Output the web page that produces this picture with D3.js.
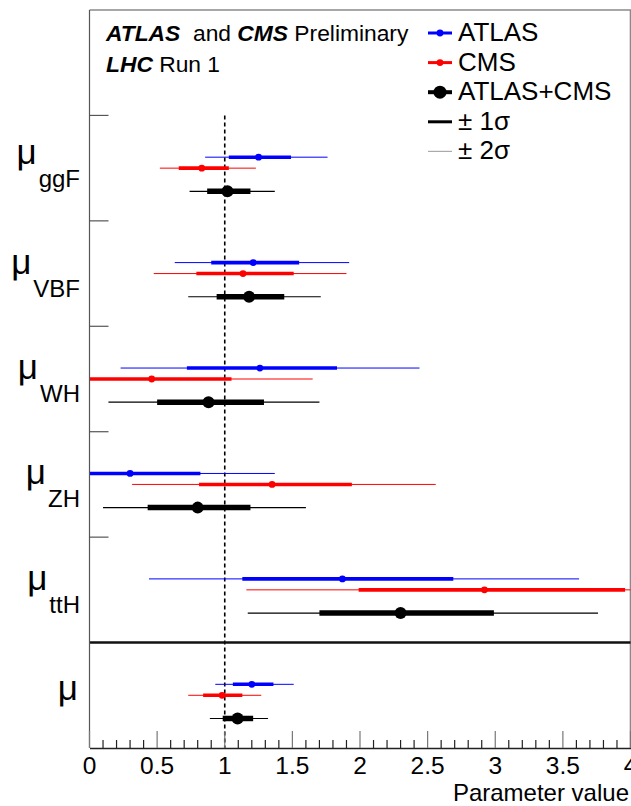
<!DOCTYPE html>
<html>
<head>
<meta charset="utf-8">
<script src="https://cdn.jsdelivr.net/npm/d3@7"></script>
<style>
  html, body { margin: 0; padding: 0; background: #fff; }
  svg { display: block; font-family: "Liberation Sans", Arial, Helvetica, sans-serif; }
  text { white-space: pre; }
</style>
</head>
<body>
<svg id="chart" width="631" height="806"></svg>
<script>
// ---- data ----
const categories = ["ggF", "VBF", "WH", "ZH", "ttH", ""];  // "" = global μ
const seriesNames = ["ATLAS", "CMS", "ATLAS+CMS"];

const atlasVal  = [1.25, 1.21, 1.26, 0.30, 1.87, 1.20];
const atlasLo1  = [1.03, 0.90, 0.72, 0.00, 1.13, 1.06];
const atlasHi1  = [1.49, 1.55, 1.83, 0.82, 2.69, 1.36];
const atlasLo2  = [0.855, 0.63, 0.23, 0.00, 0.44, 0.93];
const atlasHi2  = [1.76, 1.92, 2.44, 1.37, 3.62, 1.51];

const cmsVal    = [0.83, 1.135, 0.46, 1.35, 2.92, 0.98];
const cmsLo1    = [0.66, 0.79, 0.00, 0.81, 1.99, 0.84];
const cmsHi1    = [1.03, 1.51, 1.05, 1.94, 3.96, 1.13];
const cmsLo2    = [0.52, 0.475, 0.00, 0.315, 1.16, 0.73];
const cmsHi2    = [1.23, 1.90, 1.65, 2.56, 4.00, 1.27];

const combVal   = [1.02, 1.18, 0.88, 0.80, 2.30, 1.095];
const combLo1   = [0.87, 0.94, 0.50, 0.43, 1.70, 0.985];
const combHi1   = [1.19, 1.44, 1.29, 1.19, 2.99, 1.21];
const combLo2   = [0.74, 0.73, 0.14, 0.10, 1.17, 0.89];
const combHi2   = [1.37, 1.71, 1.70, 1.60, 3.76, 1.32];

const xTickLabels = ["0", "0.5", "1", "1.5", "2", "2.5", "3", "3.5", "4"];

// ---- layout ----
const svg = d3.select("#chart");
const pL = 89.5, pR = 630.5, pT = 10, pB = 748;
const x = d3.scaleLinear().domain([0, 4]).range([pL, pR]).clamp(true);
const y = d3.scaleLinear().domain([0, 7]).range([pT, pB]);

const series = [
  { name: "ATLAS", color: "#0000ff", val: atlasVal, lo1: atlasLo1, hi1: atlasHi1, lo2: atlasLo2, hi2: atlasHi2,
    off: 0.396, thick: 3.6, thin: 1, r: 3.4 },
  { name: "CMS", color: "#ff0000", val: cmsVal, lo1: cmsLo1, hi1: cmsHi1, lo2: cmsLo2, hi2: cmsHi2,
    off: 0.50, thick: 3.6, thin: 1, r: 3.4 },
  { name: "ATLAS+CMS", color: "#000000", val: combVal, lo1: combLo1, hi1: combHi1, lo2: combLo2, hi2: combHi2,
    off: 0.72, thick: 5.5, thin: 1.2, r: 6 }
];

// frame (top & right)
svg.append("path")
  .attr("d", `M${pL},${pT}H${pR}V${pB}`)
  .attr("fill", "none").attr("stroke", "#8a8a8a").attr("stroke-width", 1.6);

// dashed line at 1
svg.append("line")
  .attr("x1", x(1)).attr("x2", x(1))
  .attr("y1", y(1)).attr("y2", pB)
  .attr("stroke", "#000").attr("stroke-width", 1.6)
  .attr("stroke-dasharray", "4,3");

// data
categories.forEach((c, i) => {
  const band = i + 1;
  series.forEach(s => {
    const yy = y(band + s.off);
    const g = svg.append("g");
    g.append("line")
      .attr("x1", x(s.lo2[i])).attr("x2", x(s.hi2[i]))
      .attr("y1", yy).attr("y2", yy)
      .attr("stroke", s.color).attr("stroke-width", s.thin);
    g.append("line")
      .attr("x1", x(s.lo1[i])).attr("x2", x(s.hi1[i]))
      .attr("y1", yy).attr("y2", yy)
      .attr("stroke", s.color).attr("stroke-width", s.thick);
    g.append("circle")
      .attr("cx", x(s.val[i])).attr("cy", yy).attr("r", s.r)
      .attr("fill", s.color);
  });
});

// separator line before global μ
svg.append("line")
  .attr("x1", pL).attr("x2", pR)
  .attr("y1", y(6)).attr("y2", y(6))
  .attr("stroke", "#111").attr("stroke-width", 2.6);

// left axis
svg.append("line")
  .attr("x1", pL).attr("x2", pL).attr("y1", pT).attr("y2", pB)
  .attr("stroke", "#555").attr("stroke-width", 1.2);
d3.range(1, 6).forEach(b => {
  svg.append("line")
    .attr("x1", pL).attr("x2", pL + 19)
    .attr("y1", y(b)).attr("y2", y(b))
    .attr("stroke", "#555").attr("stroke-width", 1.2);
});

// bottom axis
const xAxis = d3.axisBottom(x).tickValues(d3.range(0, 4.001, 0.1)).tickSize(0).tickFormat("");
const ax = svg.append("g").attr("transform", `translate(0,${pB})`).call(xAxis);
ax.select(".domain").attr("stroke", "#222").attr("stroke-width", 1.4);
ax.selectAll(".tick line").remove();
d3.range(0, 41).forEach(k => {
  const major = k % 5 === 0;
  svg.append("line")
    .attr("x1", x(k / 10)).attr("x2", x(k / 10))
    .attr("y1", pB).attr("y2", pB - (major ? 17 : 8))
    .attr("stroke", major ? "#777" : "#222").attr("stroke-width", 1.2);
});
xTickLabels.forEach((t) => {
  svg.append("text")
    .attr("x", x(+t)).attr("y", 774)
    .attr("text-anchor", "middle")
    .attr("font-size", 24.5)
    .text(t);
});
svg.append("text")
  .attr("x", 629).attr("y", 800.5)
  .attr("text-anchor", "end").attr("font-size", 24)
  .text("Parameter value");

// category labels
categories.forEach((c, i) => {
  const center = y(i + 1.5);
  const hasSub = c !== "";
  const desc = /[gpqy]/.test(c);
  const base = center + (hasSub ? (desc ? -4 : 0) : 5);
  const t = svg.append("text")
    .attr("x", hasSub ? 80 : 78).attr("y", base)
    .attr("text-anchor", "end");
  t.append("tspan").attr("font-size", 35).text("μ");
  if (hasSub) {
    t.append("tspan").attr("font-size", 24).attr("dx", 2).attr("dy", 23).text(c);
  }
});

// header
const h1 = svg.append("text").attr("x", 106).attr("y", 41).attr("font-size", 22.8);
h1.append("tspan").attr("font-weight", "bold").attr("font-style", "italic").text("ATLAS");
h1.append("tspan").text("  and ");
h1.append("tspan").attr("font-weight", "bold").attr("font-style", "italic").text("CMS");
h1.append("tspan").text(" Preliminary");
const h2 = svg.append("text").attr("x", 106).attr("y", 72).attr("font-size", 22.8);
h2.append("tspan").attr("font-weight", "bold").attr("font-style", "italic").text("LHC");
h2.append("tspan").text(" Run 1");

// legend
const legY0 = 33, legDy = 29.6, legX1 = 428, legX2 = 452, legTx = 458;
const legendItems = [
  { label: seriesNames[0], color: "#0000ff", w: 3, r: 3.4 },
  { label: seriesNames[1], color: "#ff0000", w: 3, r: 3.4 },
  { label: seriesNames[2], color: "#000000", w: 4, r: 6.5 },
  { label: "± 1σ", color: "#000000", w: 3, r: 0 },
  { label: "± 2σ", color: "#aaaaaa", w: 1.2, r: 0 }
];
legendItems.forEach((d, k) => {
  const yy = legY0 + k * legDy;
  svg.append("line")
    .attr("x1", legX1).attr("x2", legX2).attr("y1", yy).attr("y2", yy)
    .attr("stroke", d.color).attr("stroke-width", d.w);
  if (d.r > 0) {
    svg.append("circle").attr("cx", (legX1 + legX2) / 2).attr("cy", yy).attr("r", d.r).attr("fill", d.color);
  }
  svg.append("text")
    .attr("x", legTx).attr("y", yy + 8)
    .attr("font-size", 26)
    .text(d.label);
});
</script>
</body>
</html>
